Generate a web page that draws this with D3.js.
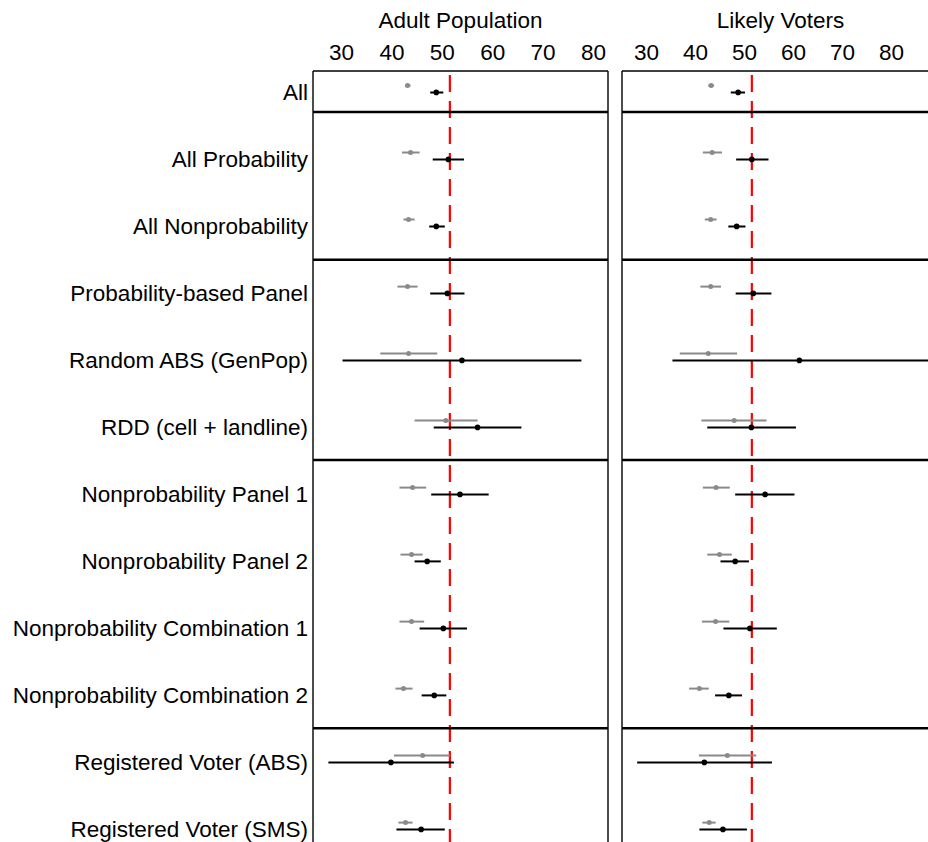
<!DOCTYPE html>
<html><head><meta charset="utf-8">
<script src="https://cdn.jsdelivr.net/npm/d3@7"></script>
<style>body{margin:0;background:#fff}svg{display:block}</style>
</head><body>
<script>
const categories = ["All","All Probability","All Nonprobability","Probability-based Panel","Random ABS (GenPop)","RDD (cell + landline)","Nonprobability Panel 1","Nonprobability Panel 2","Nonprobability Combination 1","Nonprobability Combination 2","Registered Voter (ABS)","Registered Voter (SMS)"];
const panels = ["Adult Population","Likely Voters"];
const tickValues = [30,40,50,60,70,80];
const benchmark = 51.6;

// Adult Population: grey (estimate, low, high), black (estimate, low, high)
const adultGreyEst  = [43.2,43.8,43.4,43.2,43.4,50.8,44.2,44.0,44.0,42.4,46.2,42.8];
const adultGreyLo   = [42.7,42.1,42.4,41.2,37.8,44.6,41.6,41.8,41.6,40.8,40.5,41.4];
const adultGreyHi   = [43.8,45.6,44.6,45.2,49.1,57.1,46.9,46.2,46.5,44.2,51.6,44.2];
const adultBlackEst = [48.9,51.3,48.9,51.1,54.0,57.1,53.6,47.1,50.3,48.5,39.9,45.9];
const adultBlackLo  = [47.7,48.2,47.5,47.7,30.3,48.4,47.9,44.6,45.6,46.0,27.5,41.0];
const adultBlackHi  = [50.3,54.4,50.6,54.5,77.7,65.8,59.3,49.8,55.0,50.9,52.4,50.6];

// Likely Voters
const lvGreyEst  = [43.3,43.5,43.2,43.2,42.7,48.0,44.3,45.0,44.2,40.9,46.6,42.9];
const lvGreyLo   = [42.7,41.6,42.0,41.1,36.9,41.3,41.6,42.5,41.4,38.8,40.8,41.5];
const lvGreyHi   = [43.9,45.5,44.4,45.3,48.6,54.6,47.1,47.5,47.0,42.8,52.5,44.2];
const lvBlackEst = [48.8,51.6,48.5,51.9,61.3,51.5,54.3,48.2,51.2,46.9,41.9,45.7];
const lvBlackLo  = [47.3,48.4,46.8,48.3,35.4,42.5,48.2,45.2,45.8,44.1,28.2,40.9];
const lvBlackHi  = [50.2,55.0,50.3,55.6,90.0,60.6,60.3,51.0,56.7,49.6,55.7,50.6];

const W = 928, H = 842;
const FS = 22.5;
const svg = d3.select("body").append("svg").attr("width", W).attr("height", H)
  .style("font-family","'Liberation Sans', Arial, sans-serif");

const y = d3.scalePoint().domain(categories).range([89, 826]);
const rowIdx = d3.scaleLinear().domain([0, categories.length-1]).range([89, 826]);
const panelTop = rowIdx(-0.269), panelBottom = rowIdx(11.6);
const sepPos = [0.343, 2.548, 5.537, 9.542];

const panelDefs = [
  {name: panels[0], x: d3.scaleLinear().domain([30,80]).range([341,593]), left:313, right:608, titleX:460.5,
   g:[adultGreyEst,adultGreyLo,adultGreyHi], b:[adultBlackEst,adultBlackLo,adultBlackHi], rightBorder:true},
  {name: panels[1], x: d3.scaleLinear().domain([30,80]).range([646,891]), left:622, right:940, titleX:780.5,
   g:[lvGreyEst,lvGreyLo,lvGreyHi], b:[lvBlackEst,lvBlackLo,lvBlackHi], rightBorder:false}
];

const defs = svg.append("defs");
panelDefs.forEach((p,i)=>{
  defs.append("clipPath").attr("id","clip"+i).append("rect")
    .attr("x",p.left).attr("y",panelTop).attr("width",p.right-p.left).attr("height",panelBottom-panelTop);
});

panelDefs.forEach((p,pi)=>{
  const g = svg.append("g");
  g.append("text").attr("x",p.titleX).attr("y",28).attr("text-anchor","middle")
    .attr("font-size",FS).attr("fill","#000").text(p.name);
  const ax = g.append("g").attr("transform",`translate(0,${panelTop})`)
    .call(d3.axisTop(p.x).tickValues(tickValues).tickSize(0).tickPadding(11));
  ax.select(".domain").remove();
  ax.selectAll("text").attr("font-size",FS).attr("fill","#000")
    .style("font-family","'Liberation Sans', Arial, sans-serif");

  const inner = g.append("g").attr("clip-path",`url(#clip${pi})`);
  inner.append("line").attr("x1",p.x(benchmark)).attr("x2",p.x(benchmark))
    .attr("y1",panelTop).attr("y2",panelBottom)
    .attr("stroke","#ff0000").attr("stroke-width",2.2).attr("stroke-dasharray","17,9")
    .attr("stroke-dashoffset",-4);

  const off = 3.4;
  const series = [
    {arr:p.g, color:"#8a8a8a", dy:-off, r:2.5},
    {arr:p.b, color:"#000000", dy:off, r:2.8}
  ];
  series.forEach(s=>{
    const data = categories.map((c,i)=>({c, est:s.arr[0][i], lo:s.arr[1][i], hi:s.arr[2][i]}));
    inner.selectAll(null).data(data).enter().append("line")
      .attr("x1",d=>p.x(d.lo)).attr("x2",d=>p.x(d.hi))
      .attr("y1",d=>y(d.c)+s.dy).attr("y2",d=>y(d.c)+s.dy)
      .attr("stroke",s.color).attr("stroke-width",2);
    inner.selectAll(null).data(data).enter().append("circle")
      .attr("cx",d=>p.x(d.est)).attr("cy",d=>y(d.c)+s.dy).attr("r",s.r)
      .attr("fill",s.color);
  });

  sepPos.forEach(sp=>{
    g.append("line").attr("x1",p.left).attr("x2",p.right)
      .attr("y1",rowIdx(sp)).attr("y2",rowIdx(sp)).attr("stroke","#000").attr("stroke-width",2.6);
  });
  g.append("line").attr("x1",p.left).attr("x2",p.right).attr("y1",panelTop).attr("y2",panelTop)
    .attr("stroke","#000").attr("stroke-width",1.4);
  g.append("line").attr("x1",p.left).attr("x2",p.left).attr("y1",panelTop).attr("y2",panelBottom)
    .attr("stroke","#000").attr("stroke-width",1.4);
  if (p.rightBorder) g.append("line").attr("x1",p.right).attr("x2",p.right).attr("y1",panelTop).attr("y2",panelBottom)
    .attr("stroke","#000").attr("stroke-width",1.4);
});

svg.append("g").selectAll("text").data(categories).enter().append("text")
  .attr("x",308).attr("y",d=>y(d)+3.5).attr("dy","0.35em").attr("text-anchor","end")
  .attr("font-size",FS).attr("fill","#000").text(d=>d);
</script>
</body></html>
